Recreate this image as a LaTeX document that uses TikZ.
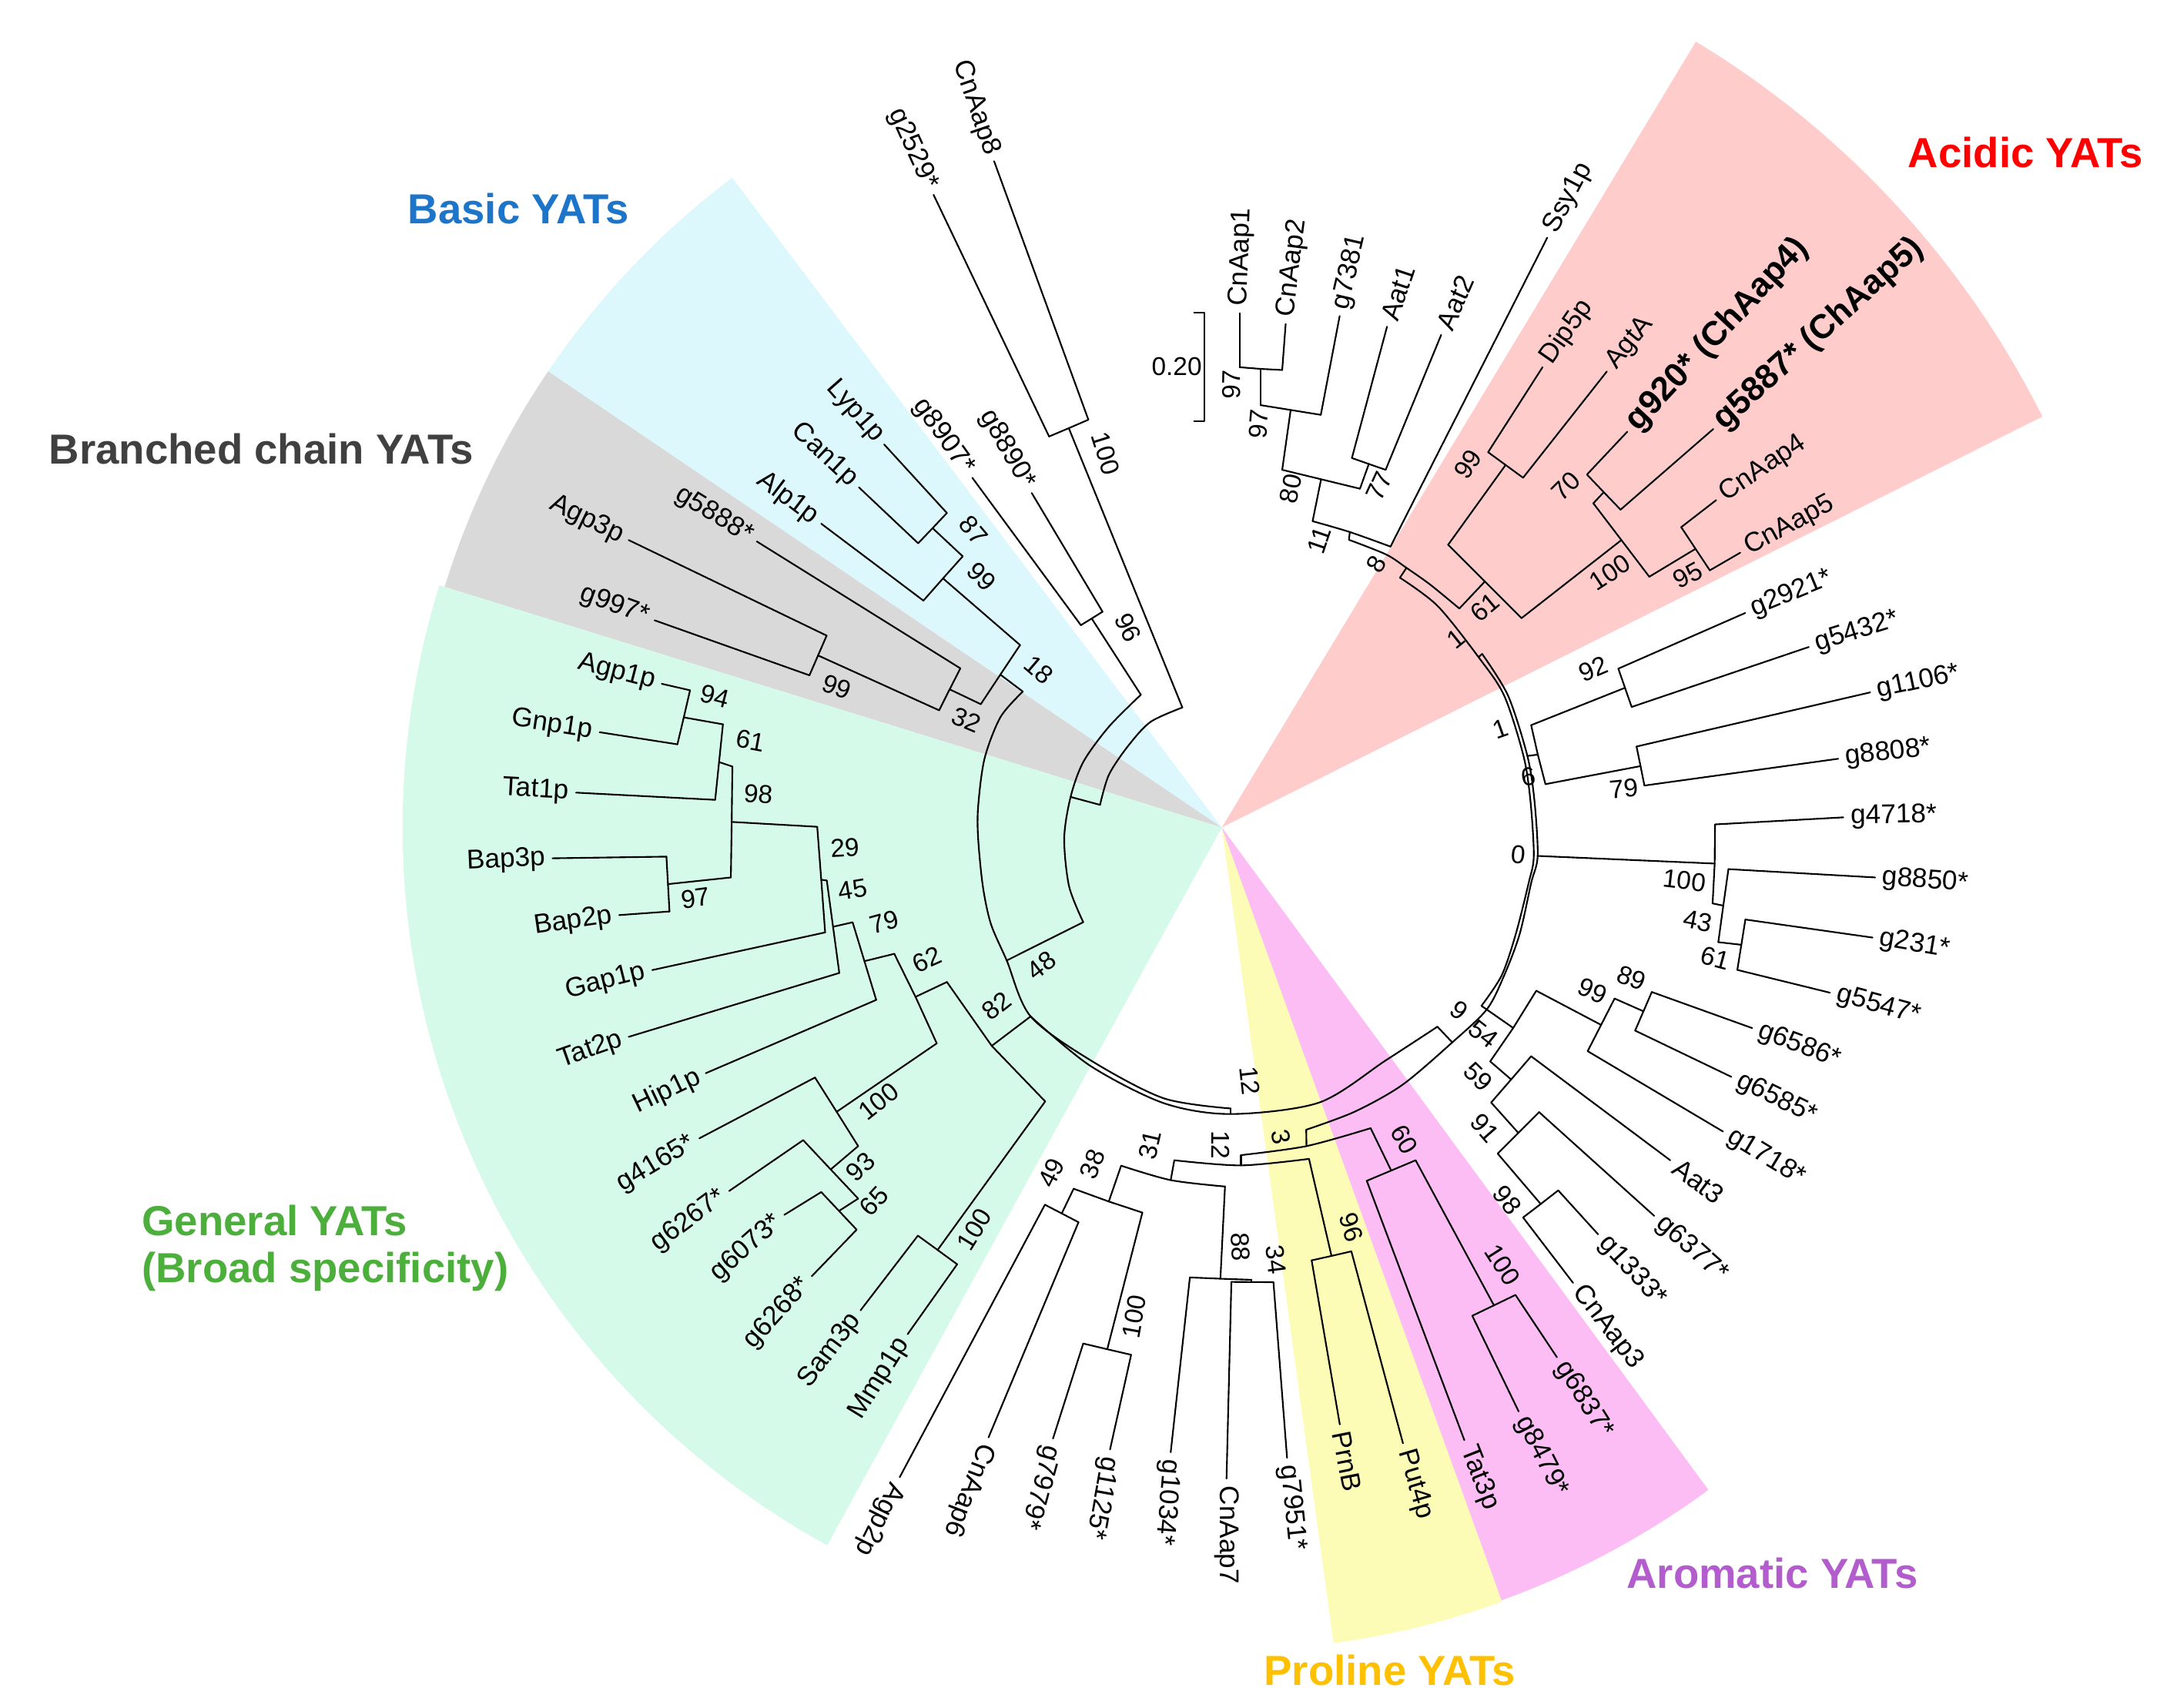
\documentclass[tikz,border=0pt]{standalone}
\usepackage{fontspec}
\setmainfont{Liberation Sans}
\definecolor{acidicbg}{RGB}{255,204,204}
\definecolor{basicbg}{RGB}{220,248,253}
\definecolor{branchbg}{RGB}{217,217,217}
\definecolor{generalbg}{RGB}{213,250,234}
\definecolor{prolinebg}{RGB}{252,252,182}
\definecolor{aromaticbg}{RGB}{252,188,244}
\definecolor{acidictxt}{RGB}{255,0,0}
\definecolor{basictxt}{RGB}{28,117,200}
\definecolor{branchtxt}{RGB}{64,64,64}
\definecolor{generaltxt}{RGB}{76,175,60}
\definecolor{prolinetxt}{RGB}{255,192,0}
\definecolor{aromatictxt}{RGB}{178,92,205}
\tikzset{
  branch/.style={line width=0.6pt, line join=round, line cap=round},
  leafR/.style={anchor=west, inner sep=2.5pt, font=\fontsize{10}{12}\selectfont},
  leafL/.style={anchor=east, inner sep=2.5pt, font=\fontsize{10}{12}\selectfont},
  leafB/.style={anchor=west, inner sep=2.5pt, font=\fontsize{12.5}{14}\selectfont\bfseries},
  boot/.style={inner sep=0pt, font=\fontsize{9.5}{11}\selectfont},
  group/.style={font=\fontsize{15.5}{17.4}\selectfont\bfseries},
}
\begin{document}
\begin{tikzpicture}[x=0.018cm, y=-0.018cm]
\useasboundingbox (0,0) rectangle (1568,1230);

% coloured sectors
\begin{scope}[shift={(880,596)}, yscale=-1]
  \fill[acidicbg] (0,0) -- (26.6:661) arc[start angle=26.6, end angle=58.9, radius=661] -- cycle;
  \fill[basicbg] (0,0) -- (127:586) arc[start angle=127, end angle=145.9, radius=586] -- cycle;
  \fill[branchbg] (0,0) -- (145.9:586) arc[start angle=145.9, end angle=162.8, radius=586] -- cycle;
  \fill[generalbg] (0,0) -- (162.8:590) arc[start angle=162.8, end angle=241.2, radius=590] -- cycle;
  \fill[prolinebg] (0,0) -- (277.8:593) arc[start angle=277.8, end angle=289.9, radius=593] -- cycle;
  \fill[aromaticbg] (0,0) -- (289.9:592) arc[start angle=289.9, end angle=306.3, radius=592] -- cycle;
\end{scope}

% group titles
\node[group, text=acidictxt] (acidic) at (1459,110) {Acidic YATs};
\node[group, text=basictxt] (basic) at (373.5,150.4) {Basic YATs};
\node[group, text=branchtxt] (branched) at (188.2,323.5) {Branched chain YATs};
\node[group, text=generaltxt, anchor=west, align=left, inner sep=0pt] (general) at (101.9,899) {General YATs\\(Broad specificity)};
\node[group, text=aromatictxt] (aromatic) at (1276.5,1133) {Aromatic YATs};
\node[group, text=prolinetxt] (proline) at (1001,1203) {Proline YATs};

% top clade
\coordinate (CnAap1) at (892.8,225.6);  \coordinate (CnAap1i) at (892.8,264.5);
\coordinate (CnAap2) at (926,233.4);    \coordinate (CnAap2i) at (923.5,266.5);
\coordinate (n97am) at (907.9,265.7);   \coordinate (n97a) at (907.9,291.8);
\coordinate (g7381) at (964.9,227.6);   \coordinate (g7381i) at (951.3,298.8);
\coordinate (n97bm) at (929.6,295.3);   \coordinate (n97b) at (923.5,338.4);
\coordinate (Aat1) at (999,235.3);      \coordinate (Aat1i) at (973.7,329.9);
\coordinate (Aat2) at (1038,241.2);     \coordinate (Aat2i) at (998,338.4);
\coordinate (n77m) at (985.9,334.2);    \coordinate (n77) at (979.5,352);
\coordinate (n80m) at (951.5,345.2);    \coordinate (n80) at (945.4,375.4);
\coordinate (Ssy1p) at (1114.4,171.2);  \coordinate (Ssy1pi) at (1001.5,393.7);
\coordinate (n11m) at (972.2,383.2);    \coordinate (n11) at (971.6,388.8);
\coordinate (n8m) at (1013,409);        \coordinate (n8) at (1008.3,416.1);

% acidic clade
\coordinate (n61) at (1051.1,438.3);    \coordinate (n61m) at (1069.5,418.8);
\coordinate (n99a) at (1043,392.4);     \coordinate (n99am) at (1084.4,334.9);
\coordinate (Dip5p) at (1111,264.5);    \coordinate (Dip5pi) at (1071.8,325.7);
\coordinate (AgtA) at (1157.3,267.6);   \coordinate (AgtAi) at (1097,344.1);
\coordinate (n100c) at (1095.9,445.2);  \coordinate (n100cm) at (1167.8,389);
\coordinate (n70) at (1147.6,362.5);    \coordinate (n70m) at (1155.1,354.5);
\coordinate (g920) at (1172,311);       \coordinate (g920i) at (1143,341.8);
\coordinate (g5887) at (1234,309);      \coordinate (g5887i) at (1167.2,367.1);
\coordinate (n95) at (1187.9,415.4);    \coordinate (n95m) at (1221.2,395.3);
\coordinate (CnAap4) at (1236.1,360.2); \coordinate (CnAap4i) at (1210.9,379.7);
\coordinate (CnAap5) at (1253.4,398.1); \coordinate (CnAap5i) at (1231.5,410.8);

% ring on the right
\coordinate (n1) at (1064.9,473.3);     \coordinate (o1) at (1067.5,471);
\coordinate (n1b) at (1100.1,544.5);    \coordinate (n0) at (1107.5,616.5);
\coordinate (n54) at (1070.8,727.1);    \coordinate (n9) at (1046,750.8);
\coordinate (n3) at (940.8,813.7);

% g2921 .. g8808
\coordinate (n92) at (1102.8,522.3);    \coordinate (n92m) at (1170.4,495.4);
\coordinate (g2921) at (1257,441.5);    \coordinate (g2921i) at (1165.6,481.6);
\coordinate (g5432) at (1302.8,466);    \coordinate (g5432i) at (1175.2,509.2);
\coordinate (n79) at (1113.1,564.8);    \coordinate (n79m) at (1181.6,551.8);
\coordinate (g1106) at (1347,498.7);    \coordinate (g1106i) at (1178.7,537.7);
\coordinate (g8808) at (1324,546.5);    \coordinate (g8808i) at (1184.4,565.8);
\coordinate (n1bm) at (1107.6,543.5);

% g4718 .. g5547
\coordinate (n100rm) at (1235,622);
\coordinate (g4718) at (1327.7,588.7);  \coordinate (g4718i) at (1235.2,593.8);
\coordinate (n43) at (1233.5,650.7);    \coordinate (n43m) at (1241.2,652.3);
\coordinate (g8850) at (1350.6,632);    \coordinate (g8850i) at (1244.9,626);
\coordinate (n61r) at (1237.6,678.6);   \coordinate (n61rm) at (1254.2,680.5);
\coordinate (g231) at (1348.7,675.3);   \coordinate (g231i) at (1257.1,662.3);
\coordinate (g5547) at (1318,715);      \coordinate (g5547i) at (1251.3,698.6);

% g6586 .. CnAap3
\coordinate (n54m) at (1089.9,740.4);
\coordinate (n99r) at (1106.5,713.6);   \coordinate (n99rm) at (1153.2,738.2);
\coordinate (g1718) at (1241,815);      \coordinate (g1718i) at (1143.5,757.1);
\coordinate (n89) at (1162.9,719.2);    \coordinate (n89m) at (1183.7,728.4);
\coordinate (g6586) at (1262,740.5);    \coordinate (g6586i) at (1189.7,714.5);
\coordinate (g6585) at (1247,775.6);    \coordinate (g6585i) at (1177.7,742.3);
\coordinate (n59) at (1073.3,764.5);    \coordinate (n59m) at (1088.4,777.5);
\coordinate (Aat3) at (1203,835.7);     \coordinate (Aat3i) at (1102.8,760.8);
\coordinate (n91) at (1074,794.1);      \coordinate (n91m) at (1093.6,816);
\coordinate (g6377) at (1191.4,875.7);  \coordinate (g6377i) at (1108.5,801);
\coordinate (n98r) at (1078.7,830.9);   \coordinate (n98rm) at (1109.7,867.2);
\coordinate (g1333) at (1151,889);      \coordinate (g1333i) at (1122.3,857.4);
\coordinate (CnAap3) at (1133,924);     \coordinate (CnAap3i) at (1097,876.9);

% bottom
\coordinate (n9a) at (1035.3,739.5);
\coordinate (n12) at (886.4,802.4);     \coordinate (n12m) at (886.4,798.4);
\coordinate (n3m) at (941,825.5);       \coordinate (n12b) at (893.8,832);
\coordinate (nArom) at (987.2,812.6);   \coordinate (n12bm) at (893.8,839.4);
\coordinate (n31) at (845.8,835.7);     \coordinate (n96p) at (942.8,834.7);
\coordinate (n31m) at (843.2,850);
\coordinate (n38) at (807.5,839.6);     \coordinate (n88) at (882.3,854.6);
\coordinate (n88m) at (879,921);        \coordinate (n34) at (901.5,921.8);
\coordinate (n34m) at (901.5,923.4);
\coordinate (g1034) at (843.2,1046);    \coordinate (g1034i) at (857,920.1);
\coordinate (CnAap7) at (883.4,1065);   \coordinate (CnAap7i) at (886.9,923.3);
\coordinate (g7951) at (927,1050);      \coordinate (g7951i) at (917.2,923.5);
\coordinate (n38m) at (798.6,865.4);
\coordinate (n49) at (773.3,856.2);     \coordinate (n49m) at (764.7,874);
\coordinate (n100b) at (822.8,873.4);   \coordinate (n100bm) at (797.5,971.8);
\coordinate (Agp2p) at (648,1064);      \coordinate (Agp2pi) at (752.6,867.7);
\coordinate (CnAap6) at (712,1035.3);   \coordinate (CnAap6i) at (776.8,880.3);
\coordinate (g7979) at (758.4,1036.2);  \coordinate (g7979i) at (780.2,967.7);
\coordinate (g1125) at (799.5,1044);    \coordinate (g1125i) at (814.7,975.8);
\coordinate (n96pm) at (959,904.6);
\coordinate (PrnB) at (965,1026);       \coordinate (PrnBi) at (944.7,907.8);
\coordinate (Put4p) at (1010.5,1039.6); \coordinate (Put4pi) at (973.3,901.3);
\coordinate (n60m) at (1002,843.1);     \coordinate (n100a) at (1019.6,835.7);
\coordinate (Tat3p) at (1054.7,1037.3); \coordinate (Tat3pi) at (984.4,850.5);
\coordinate (n100am) at (1076,940.2);
\coordinate (g8479) at (1093.8,1016.6); \coordinate (g8479i) at (1060.4,947.7);
\coordinate (g6837) at (1121.4,977.6);  \coordinate (g6837i) at (1091.5,932.7);

% inner arcs on the left
\coordinate (nA) at (851.6,509.6);      \coordinate (nB) at (821.7,500.4);
\coordinate (n90m) at (792.3,579.7);    \coordinate (n111m) at (771.1,574);
\coordinate (n48) at (725.1,691.8);     \coordinate (n48i) at (780.2,664.2);
\coordinate (n18) at (736.7,498.1);     \coordinate (n82) at (742.3,732.1);

% top left
\coordinate (g2529) at (672.4,140.3);   \coordinate (g2529i) at (755.6,314.4);
\coordinate (CnAap8) at (716,116.1);    \coordinate (CnAap8i) at (783.9,302.3);
\coordinate (nAm) at (769.8,308.4);
\coordinate (g8907) at (700.3,344.1);   \coordinate (g8907i) at (778.5,450.3);
\coordinate (g8890) at (743.1,355.1);   \coordinate (g8890i) at (794.1,440.6);
\coordinate (nBm) at (786.3,445.5);

% basic and branched chain
\coordinate (n18m) at (720.5,485.9);
\coordinate (n99b) at (734.7,464.6);    \coordinate (n99bm) at (679.2,416.6);
\coordinate (n87) at (693.4,400.7);     \coordinate (n87m) at (671.7,380.4);
\coordinate (Lyp1p) at (636.8,320.1);   \coordinate (Lyp1pi) at (682,369.5);
\coordinate (Can1p) at (618.6,351);     \coordinate (Can1pi) at (661.3,391.3);
\coordinate (Alp1p) at (591.5,377.2);   \coordinate (Alp1pi) at (665.1,432.6);
\coordinate (n32) at (706.4,507.2);     \coordinate (n32m) at (684,496.5);
\coordinate (g5888) at (545.1,390);     \coordinate (g5888i) at (691.7,481.4);
\coordinate (n99c) at (676.4,511.6);    \coordinate (n99cm) at (589.2,472.1);
\coordinate (Agp3p) at (452.8,389);     \coordinate (Agp3pi) at (595.4,457.8);
\coordinate (g997) at (471.5,446.8);    \coordinate (g997i) at (583,486.4);

% general
\coordinate (n82m) at (714.3,753.3);
\coordinate (n62) at (682,707.3);       \coordinate (n62m) at (659.4,718);
\coordinate (n100s) at (752.8,793.3);   \coordinate (n100sm) at (675.3,900.3);
\coordinate (Sam3p) at (619.8,943.8);   \coordinate (Sam3pi) at (661.1,890);
\coordinate (Mmp1p) at (653.7,961);     \coordinate (Mmp1pi) at (689.4,910.6);
\coordinate (n79g) at (644.1,687);      \coordinate (n79gm) at (622.6,692.3);
\coordinate (n100g) at (674.7,751.5);   \coordinate (n100gm) at (602.6,800.8);
\coordinate (g4165) at (503.7,819.9);   \coordinate (g4165i) at (587,776.1);
\coordinate (n93) at (618.1,825.5);     \coordinate (n93m) at (598.3,842.3);
\coordinate (g6267) at (525.2,857.8);   \coordinate (g6267i) at (578.5,821.2);
\coordinate (n65) at (618.1,863.3);     \coordinate (n65m) at (604.3,872.2);
\coordinate (g6073) at (564.9,875);     \coordinate (g6073i) at (591.5,858.6);
\coordinate (g6268) at (584.7,919.2);   \coordinate (g6268i) at (617,885.7);
\coordinate (Hip1p) at (508.3,773);     \coordinate (Hip1pi) at (631.1,720.2);
\coordinate (n45) at (614.1,664.3);     \coordinate (n45m) at (600,667.5);
\coordinate (Tat2p) at (452.8,746.8);   \coordinate (Tat2pi) at (604.5,700.8);
\coordinate (n29) at (595.5,634.2);     \coordinate (n29m) at (591.5,633.6);
\coordinate (Gap1p) at (469.8,698.7);   \coordinate (Gap1pi) at (594.3,671.6);
\coordinate (n98g) at (588.6,595.5);    \coordinate (n98gm) at (527,592);
\coordinate (n97) at (526.4,632);       \coordinate (n97m) at (481.1,636.8);
\coordinate (Bap3p) at (397.9,618.2);   \coordinate (Bap3pi) at (480,617);
\coordinate (Bap2p) at (446,659.1);     \coordinate (Bap2pi) at (482.2,656.5);
\coordinate (n61g) at (527.5,552.1);    \coordinate (n61gm) at (517.9,548.9);
\coordinate (Tat1p) at (414.9,570.9);   \coordinate (Tat1pi) at (515.1,576.1);
\coordinate (n94) at (520.7,521.7);     \coordinate (n94m) at (492.5,516.7);
\coordinate (Agp1p) at (476.6,492.5);   \coordinate (Agp1pi) at (497,497.2);
\coordinate (Gnp1p) at (431.9,527.4);   \coordinate (Gnp1pi) at (487.9,536.1);

% branches: top clade
\draw[branch] (CnAap1i) -- (CnAap1);
\draw[branch] (CnAap2i) -- (CnAap2);
\draw[branch] (CnAap1i) -- (n97am) -- (CnAap2i);
\draw[branch] (n97am) -- (n97a);
\draw[branch] (g7381i) -- (g7381);
\draw[branch] (n97a) -- (n97bm) -- (g7381i);
\draw[branch] (n97bm) -- (n97b);
\draw[branch] (Aat1i) -- (Aat1);
\draw[branch] (Aat2i) -- (Aat2);
\draw[branch] (Aat1i) -- (n77m) -- (Aat2i);
\draw[branch] (n77m) -- (n77);
\draw[branch] (n97b) -- (n80m) -- (n77);
\draw[branch] (n80m) -- (n80);
\draw[branch] (Ssy1pi) -- (Ssy1p);
\draw[branch] plot[smooth] coordinates {(n80) (n11m) (Ssy1pi)};
\draw[branch] (n11m) -- (n11);
\draw[branch] plot[smooth] coordinates {(n11) (998.4,399.4) (n8m) (1030,421) (n61)};
\draw[branch] (n8m) -- (n8);

% branches: acidic
\draw[branch] (n61) -- (n61m);
\draw[branch] (n99a) -- (n61m) -- (n100c);
\draw[branch] (n99a) -- (n99am);
\draw[branch] (Dip5pi) -- (n99am) -- (AgtAi);
\draw[branch] (Dip5pi) -- (Dip5p);
\draw[branch] (AgtAi) -- (AgtA);
\draw[branch] (n100c) -- (n100cm);
\draw[branch] (n70) -- (n100cm) -- (n95);
\draw[branch] (n70) -- (n70m);
\draw[branch] (g920i) -- (n70m) -- (g5887i);
\draw[branch] (g920i) -- (g920);
\draw[branch] (g5887i) -- (g5887);
\draw[branch] (n95) -- (n95m);
\draw[branch] (CnAap4i) -- (n95m) -- (CnAap5i);
\draw[branch] (CnAap4i) -- (CnAap4);
\draw[branch] (CnAap5i) -- (CnAap5);

% ring
\draw[branch] plot[smooth] coordinates {(n8) (1035.4,436.4) (n1) (1083.4,501.1) (1097.3,544.5) (1102.3,576.9) (1104.7,616.5) (1101,636) (1091.7,672.9) (1081.6,702.5) (1067,724.5)};
\draw[branch] plot[smooth] coordinates {(o1) (1086.2,501.1) (n1b) (1105.2,576.9) (n0) (1102.8,636) (1094.5,672.9) (1083.4,702.5) (n54) (n9) (1009.9,781.5) (975.5,800.8) (n3)};
\draw[branch] (n1) -- (o1);
\draw[branch] (1067,724.5) -- (n54);
\draw[branch] plot[smooth] coordinates {(n82) (785,767.5) (838,794.5) (n12) (950.2,794.1) (998.3,763.6) (n9a)};
\draw[branch] (n9a) -- (n9);
\draw[branch] plot[smooth] coordinates {(n18) (720.6,516.5) (709.1,546.4) (704.5,580.9) (704.5,603.9) (707.9,638.4) (713.7,665.5) (n48) (n82) (786,764) (838,791) (n12m)};
\draw[branch] (n12m) -- (n12);
\draw[branch] plot[smooth] coordinates {(nB) (798.7,523.4) (780.3,548.7) (n111m) (766.5,603.9) (770,638.4) (n48i)};
\draw[branch] (n48i) -- (n48);
\draw[branch] plot[smooth] coordinates {(nA) (828.6,520) (812.5,537.3) (798.7,558) (n90m)};
\draw[branch] (n90m) -- (n111m);

% branches: g2921 .. g5547
\draw[branch] (n92) -- (n1bm) -- (n79);
\draw[branch] (n1bm) -- (n1b);
\draw[branch] (n92) -- (n92m);
\draw[branch] (g2921i) -- (n92m) -- (g5432i);
\draw[branch] (g2921i) -- (g2921);
\draw[branch] (g5432i) -- (g5432);
\draw[branch] (n79) -- (n79m);
\draw[branch] (g1106i) -- (n79m) -- (g8808i);
\draw[branch] (g1106i) -- (g1106);
\draw[branch] (g8808i) -- (g8808);
\draw[branch] (n0) -- (n100rm);
\draw[branch] (g4718i) -- (n100rm) -- (n43);
\draw[branch] (g4718i) -- (g4718);
\draw[branch] (n43) -- (n43m);
\draw[branch] (g8850i) -- (n43m) -- (n61r);
\draw[branch] (g8850i) -- (g8850);
\draw[branch] (n61r) -- (n61rm);
\draw[branch] (g231i) -- (n61rm) -- (g5547i);
\draw[branch] (g231i) -- (g231);
\draw[branch] (g5547i) -- (g5547);

% branches: g6586 .. CnAap3
\draw[branch] (n54) -- (n54m);
\draw[branch] (n99r) -- (n54m) -- (n59);
\draw[branch] (n99r) -- (n99rm);
\draw[branch] (g1718i) -- (n99rm) -- (n89);
\draw[branch] (g1718i) -- (g1718);
\draw[branch] (n89) -- (n89m);
\draw[branch] (g6585i) -- (n89m) -- (g6586i);
\draw[branch] (g6585i) -- (g6585);
\draw[branch] (g6586i) -- (g6586);
\draw[branch] (n59) -- (n59m);
\draw[branch] (n91) -- (n59m) -- (Aat3i);
\draw[branch] (Aat3i) -- (Aat3);
\draw[branch] (n91) -- (n91m);
\draw[branch] (n98r) -- (n91m) -- (g6377i);
\draw[branch] (g6377i) -- (g6377);
\draw[branch] (n98r) -- (n98rm);
\draw[branch] (CnAap3i) -- (n98rm) -- (g1333i);
\draw[branch] (CnAap3i) -- (CnAap3);
\draw[branch] (g1333i) -- (g1333);

% branches: bottom
\draw[branch] (n3) -- (n3m);
\draw[branch] plot[smooth] coordinates {(n12b) (n3m) (nArom)};
\draw[branch] (n12b) -- (n12bm);
\draw[branch] plot[smooth] coordinates {(n31) (n12bm) (n96p)};
\draw[branch] (n31) -- (n31m);
\draw[branch] plot[smooth] coordinates {(n38) (n31m) (n88)};
\draw[branch] (n88) -- (n88m);
\draw[branch] (g1034i) -- (n88m) -- (n34);
\draw[branch] (n34) -- (n34m);
\draw[branch] (CnAap7i) -- (n34m) -- (g7951i);
\draw[branch] (g1034i) -- (g1034);
\draw[branch] (CnAap7i) -- (CnAap7);
\draw[branch] (g7951i) -- (g7951);
\draw[branch] (n38) -- (n38m);
\draw[branch] (n49) -- (n38m) -- (n100b);
\draw[branch] (n49) -- (n49m);
\draw[branch] (Agp2pi) -- (n49m) -- (CnAap6i);
\draw[branch] (Agp2pi) -- (Agp2p);
\draw[branch] (CnAap6i) -- (CnAap6);
\draw[branch] (n100b) -- (n100bm);
\draw[branch] (g7979i) -- (n100bm) -- (g1125i);
\draw[branch] (g7979i) -- (g7979);
\draw[branch] (g1125i) -- (g1125);
\draw[branch] (n96p) -- (n96pm);
\draw[branch] (PrnBi) -- (n96pm) -- (Put4pi);
\draw[branch] (PrnBi) -- (PrnB);
\draw[branch] (Put4pi) -- (Put4p);
\draw[branch] (nArom) -- (n60m);
\draw[branch] (Tat3pi) -- (n60m) -- (n100a);
\draw[branch] (Tat3pi) -- (Tat3p);
\draw[branch] (n100a) -- (n100am);
\draw[branch] (g8479i) -- (n100am) -- (g6837i);
\draw[branch] (g8479i) -- (g8479);
\draw[branch] (g6837i) -- (g6837);

% branches: top left
\draw[branch] (nAm) -- (nA);
\draw[branch] (g2529i) -- (nAm) -- (CnAap8i);
\draw[branch] (g2529i) -- (g2529);
\draw[branch] (CnAap8i) -- (CnAap8);
\draw[branch] (nBm) -- (nB);
\draw[branch] (g8907i) -- (nBm) -- (g8890i);
\draw[branch] (g8907i) -- (g8907);
\draw[branch] (g8890i) -- (g8890);

% branches: basic and branched chain
\draw[branch] (n18m) -- (n18);
\draw[branch] (n99b) -- (n18m) -- (n32);
\draw[branch] (n99bm) -- (n99b);
\draw[branch] (n87) -- (n99bm) -- (Alp1pi);
\draw[branch] (n87m) -- (n87);
\draw[branch] (Lyp1pi) -- (n87m) -- (Can1pi);
\draw[branch] (Lyp1pi) -- (Lyp1p);
\draw[branch] (Can1pi) -- (Can1p);
\draw[branch] (Alp1pi) -- (Alp1p);
\draw[branch] (n32m) -- (n32);
\draw[branch] (g5888i) -- (n32m) -- (n99c);
\draw[branch] (g5888i) -- (g5888);
\draw[branch] (n99cm) -- (n99c);
\draw[branch] (Agp3pi) -- (n99cm) -- (g997i);
\draw[branch] (Agp3pi) -- (Agp3p);
\draw[branch] (g997i) -- (g997);

% branches: general
\draw[branch] (n82m) -- (n82);
\draw[branch] (n62) -- (n82m) -- (n100s);
\draw[branch] (n100sm) -- (n100s);
\draw[branch] (Sam3pi) -- (n100sm) -- (Mmp1pi);
\draw[branch] (Sam3pi) -- (Sam3p);
\draw[branch] (Mmp1pi) -- (Mmp1p);
\draw[branch] (n62m) -- (n62);
\draw[branch] (n79g) -- (n62m) -- (n100g);
\draw[branch] (n100gm) -- (n100g);
\draw[branch] (g4165i) -- (n100gm) -- (n93);
\draw[branch] (g4165i) -- (g4165);
\draw[branch] (n93m) -- (n93);
\draw[branch] (g6267i) -- (n93m) -- (n65);
\draw[branch] (g6267i) -- (g6267);
\draw[branch] (n65m) -- (n65);
\draw[branch] (g6073i) -- (n65m) -- (g6268i);
\draw[branch] (g6073i) -- (g6073);
\draw[branch] (g6268i) -- (g6268);
\draw[branch] (n79gm) -- (n79g);
\draw[branch] (n45) -- (n79gm) -- (Hip1pi);
\draw[branch] (Hip1pi) -- (Hip1p);
\draw[branch] (n45m) -- (n45);
\draw[branch] (n29) -- (n45m) -- (Tat2pi);
\draw[branch] (Tat2pi) -- (Tat2p);
\draw[branch] (n29m) -- (n29);
\draw[branch] (n98g) -- (n29m) -- (Gap1pi);
\draw[branch] (Gap1pi) -- (Gap1p);
\draw[branch] (n98gm) -- (n98g);
\draw[branch] (n61g) -- (n98gm) -- (n97);
\draw[branch] (n97m) -- (n97);
\draw[branch] (Bap3pi) -- (n97m) -- (Bap2pi);
\draw[branch] (Bap3pi) -- (Bap3p);
\draw[branch] (Bap2pi) -- (Bap2p);
\draw[branch] (n61gm) -- (n61g);
\draw[branch] (n94) -- (n61gm) -- (Tat1pi);
\draw[branch] (Tat1pi) -- (Tat1p);
\draw[branch] (n94m) -- (n94);
\draw[branch] (Agp1pi) -- (n94m) -- (Gnp1pi);
\draw[branch] (Agp1pi) -- (Agp1p);
\draw[branch] (Gnp1pi) -- (Gnp1p);

% scale bar
\coordinate (sb1) at (860,225); \coordinate (sb2) at (867.5,225);
\coordinate (sb3) at (867.5,303.4); \coordinate (sb4) at (860,303.4);
\draw[branch] (sb1) -- (sb2) -- (sb3) -- (sb4);
\node[boot, anchor=east] (scale) at (866,264) {0.20};

% leaf labels
\node[leafR, rotate=88] (tCnAap1) at (CnAap1) {CnAap1};
\node[leafR, rotate=82.8] (tCnAap2) at (CnAap2) {CnAap2};
\node[leafR, rotate=77] (tg7381) at (g7381) {g7381};
\node[leafR, rotate=71.7] (tAat1) at (Aat1) {Aat1};
\node[leafR, rotate=66] (tAat2) at (Aat2) {Aat2};
\node[leafR, rotate=62] (tSsy1p) at (Ssy1p) {Ssy1p};
\node[leafR, rotate=55.1] (tDip5p) at (Dip5p) {Dip5p};
\node[leafR, rotate=51] (tAgtA) at (AgtA) {AgtA};
\node[leafB, rotate=47] (tg920) at (g920) {g920* (ChAap4)};
\node[leafB, rotate=42] (tg5887) at (g5887) {g5887* (ChAap5)};
\node[leafR, rotate=34] (tCnAap4) at (CnAap4) {CnAap4};
\node[leafR, rotate=28.5] (tCnAap5) at (CnAap5) {CnAap5};
\node[leafR, rotate=22.3] (tg2921) at (g2921) {g2921*};
\node[leafR, rotate=17.1] (tg5432) at (g5432) {g5432*};
\node[leafR, rotate=11.8] (tg1106) at (g1106) {g1106*};
\node[leafR, rotate=6.4] (tg8808) at (g8808) {g8808*};
\node[leafR, rotate=0.9] (tg4718) at (g4718) {g4718*};
\node[leafR, rotate=-4.4] (tg8850) at (g8850) {g8850*};
\node[leafR, rotate=-9.6] (tg231) at (g231) {g231*};
\node[leafR, rotate=-15.2] (tg5547) at (g5547) {g5547*};
\node[leafR, rotate=-20.7] (tg6586) at (g6586) {g6586*};
\node[leafR, rotate=-26.1] (tg6585) at (g6585) {g6585*};
\node[leafR, rotate=-31.2] (tg1718) at (g1718) {g1718*};
\node[leafR, rotate=-36.6] (tAat3) at (Aat3) {Aat3};
\node[leafR, rotate=-41.9] (tg6377) at (g6377) {g6377*};
\node[leafR, rotate=-47.2] (tg1333) at (g1333) {g1333*};
\node[leafR, rotate=-52.4] (tCnAap3) at (CnAap3) {CnAap3};
\node[leafR, rotate=-57.7] (tg6837) at (g6837) {g6837*};
\node[leafR, rotate=-63.1] (tg8479) at (g8479) {g8479*};
\node[leafR, rotate=-68.4] (tTat3p) at (Tat3p) {Tat3p};
\node[leafR, rotate=-73.6] (tPut4p) at (Put4p) {Put4p};
\node[leafR, rotate=-78.8] (tPrnB) at (PrnB) {PrnB};
\node[leafR, rotate=-84.1] (tg7951) at (g7951) {g7951*};
\node[leafR, rotate=-89.6] (tCnAap7) at (CnAap7) {CnAap7};
\node[leafR, rotate=-94.7] (tg1034) at (g1034) {g1034*};
\node[leafR, rotate=-100.2] (tg1125) at (g1125) {g1125*};
\node[leafR, rotate=-105.4] (tg7979) at (g7979) {g7979*};
\node[leafR, rotate=-110.9] (tCnAap6) at (CnAap6) {CnAap6};
\node[leafR, rotate=-116.4] (tAgp2p) at (Agp2p) {Agp2p};
\node[leafL, rotate=58.2] (tMmp1p) at (Mmp1p) {Mmp1p};
\node[leafL, rotate=53.2] (tSam3p) at (Sam3p) {Sam3p};
\node[leafL, rotate=47.6] (tg6268) at (g6268) {g6268*};
\node[leafL, rotate=41.5] (tg6073) at (g6073) {g6073*};
\node[leafL, rotate=36.4] (tg6267) at (g6267) {g6267*};
\node[leafL, rotate=30.8] (tg4165) at (g4165) {g4165*};
\node[leafL, rotate=25.5] (tHip1p) at (Hip1p) {Hip1p};
\node[leafL, rotate=19.4] (tTat2p) at (Tat2p) {Tat2p};
\node[leafL, rotate=14.1] (tGap1p) at (Gap1p) {Gap1p};
\node[leafL, rotate=8.3] (tBap2p) at (Bap2p) {Bap2p};
\node[leafL, rotate=2.6] (tBap3p) at (Bap3p) {Bap3p};
\node[leafL, rotate=-3.1] (tTat1p) at (Tat1p) {Tat1p};
\node[leafL, rotate=-8.7] (tGnp1p) at (Gnp1p) {Gnp1p};
\node[leafL, rotate=-14.4] (tAgp1p) at (Agp1p) {Agp1p};
\node[leafL, rotate=-20.1] (tg997) at (g997) {g997*};
\node[leafL, rotate=-25.9] (tAgp3p) at (Agp3p) {Agp3p};
\node[leafL, rotate=-31.6] (tg5888) at (g5888) {g5888*};
\node[leafL, rotate=-37.2] (tAlp1p) at (Alp1p) {Alp1p};
\node[leafL, rotate=-43.1] (tCan1p) at (Can1p) {Can1p};
\node[leafL, rotate=-48.6] (tLyp1p) at (Lyp1p) {Lyp1p};
\node[leafL, rotate=-54.5] (tg8907) at (g8907) {g8907*};
\node[leafL, rotate=-60.4] (tg8890) at (g8890) {g8890*};
\node[leafL, rotate=-65.5] (tg2529) at (g2529) {g2529*};
\node[leafL, rotate=-71.1] (tCnAap8) at (CnAap8) {CnAap8};

% bootstrap values
\node[boot, rotate=88.7] (b1) at (887,277) {97};
\node[boot, rotate=84.8] (b2) at (906.5,305.4) {97};
\node[boot, rotate=78.5] (b3) at (929.8,352) {80};
\node[boot, rotate=65.3] (b4) at (993.2,350.1) {77};
\node[boot, rotate=71.2] (b5) at (950.3,389) {11};
\node[boot, rotate=59.6] (b6) at (991.3,406.5) {8};
\node[boot, rotate=55.8] (b7) at (1057.4,334.5) {99};
\node[boot, rotate=44.8] (b8) at (1128,350) {70};
\node[boot, rotate=33.3] (b9) at (1159.7,412.3) {100};
\node[boot, rotate=28.4] (b10) at (1215.7,414.3) {95};
\node[boot, rotate=39.9] (b11) at (1069.6,437.6) {61};
\node[boot, rotate=38.9] (b12) at (1048.3,460.4) {1};
\node[boot, rotate=23.1] (b13) at (1147.6,482) {92};
\node[boot, rotate=19.5] (b14) at (1080.7,525.1) {1};
\node[boot, rotate=9.4] (b15) at (1101,559.3) {6};
\node[boot, rotate=5.5] (b16) at (1169.5,568.2) {79};
\node[boot, rotate=-5.2] (b17) at (1093.6,615.4) {0};
\node[boot, rotate=-6.6] (b18) at (1213.3,634.3) {100};
\node[boot, rotate=-11.1] (b19) at (1223,663.2) {43};
\node[boot, rotate=-14.9] (b20) at (1235.2,690.3) {61};
\node[boot, rotate=-20.2] (b21) at (1175,704.4) {89};
\node[boot, rotate=-23.8] (b22) at (1147.2,713.6) {99};
\node[boot, rotate=-37.6] (b23) at (1051,727.5) {9};
\node[boot, rotate=-38.3] (b24) at (1068.3,744.7) {54};
\node[boot, rotate=-44.2] (b25) at (1064.9,775.7) {59};
\node[boot, rotate=-48.8] (b26) at (1069.5,812.5) {91};
\node[boot, rotate=-52.5] (b27) at (1085.6,864.3) {98};
\node[boot, rotate=-59.7] (b28) at (1011.3,820.9) {60};
\node[boot, rotate=-57.3] (b29) at (1082.3,910.9) {100};
\node[boot, rotate=-79.2] (b30) at (922.5,819) {3};
\node[boot, rotate=-72.1] (b31) at (973.3,884) {96};
\node[boot, rotate=-83.6] (b32) at (900.3,778.4) {12};
\node[boot, rotate=-90.3] (b33) at (879,824.6) {12};
\node[boot, rotate=-87.4] (b34) at (893.7,898.2) {88};
\node[boot, rotate=-82.9] (b35) at (919,907.4) {34};
\node[boot, rotate=77.2] (b36) at (828.2,824.7) {31};
\node[boot, rotate=69] (b37) at (786.8,838.5) {38};
\node[boot, rotate=63.7] (b38) at (757.2,844.7) {49};
\node[boot, rotate=79.9] (b39) at (817,948.2) {100};
\node[boot, rotate=58.4] (b40) at (701.8,885.7) {100};
\node[boot, rotate=47] (b41) at (629.4,865) {65};
\node[boot, rotate=43.2] (b42) at (619.8,840.6) {93};
\node[boot, rotate=38.6] (b43) at (632.8,793.3) {100};
\node[boot, rotate=38.4] (b44) at (717.7,724.5) {82};
\node[boot, rotate=37.4] (b45) at (750.3,695.3) {48};
\node[boot, rotate=24.2] (b46) at (667.9,691.3) {62};
\node[boot, rotate=15.7] (b47) at (636.8,664.3) {79};
\node[boot, rotate=9.5] (b48) at (614.1,640.6) {45};
\node[boot, rotate=3.1] (b49) at (608.5,610.5) {29};
\node[boot, rotate=-4.1] (b50) at (546.2,571.8) {98};
\node[boot, rotate=-10.4] (b51) at (540.5,533.4) {61};
\node[boot, rotate=-14.5] (b52) at (515.1,501.5) {94};
\node[boot, rotate=7.7] (b53) at (500.9,647) {97};
\node[boot, rotate=-20.1] (b54) at (602.8,494.8) {99};
\node[boot, rotate=-22.8] (b55) at (696,518.5) {32};
\node[boot, rotate=-40.7] (b56) at (748,482.5) {18};
\node[boot, rotate=-46.2] (b57) at (706.8,415.4) {99};
\node[boot, rotate=-50.1] (b58) at (701,382) {87};
\node[boot, rotate=-64.9] (b59) at (812.5,452.1) {96};
\node[boot, rotate=-72.7] (b60) at (796.4,326.8) {100};
\end{tikzpicture}
\end{document}
